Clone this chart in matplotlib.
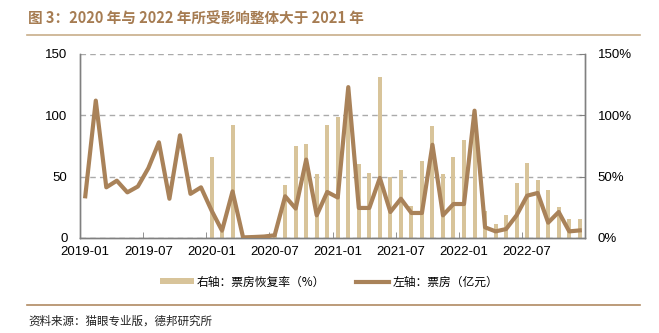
import matplotlib
matplotlib.use("Agg")
import matplotlib.pyplot as plt
from matplotlib.patches import Patch
from matplotlib.lines import Line2D
import numpy as np

plt.rcParams['font.family'] = ['Liberation Sans', 'Noto Sans CJK SC', 'DejaVu Sans']

# ---- data ----
months = [f"{y}-{m:02d}" for y in (2019, 2020, 2021, 2022) for m in range(1, 13)]
box_office = [34, 112, 41.3, 46.7, 37.2, 42, 57, 78, 32, 83.7, 36, 41.3,      # 2019
              22.5, 6, 38, 0.5, 0.8, 1.2, 2.2, 34, 24, 63.9, 18.5, 37.5,      # 2020
              33, 123, 24.5, 24.5, 49, 21.2, 32, 20.4, 20.4, 76, 18.5, 27.7,  # 2021
              27.7, 103.8, 8.7, 5.4, 7.3, 18.5, 34.5, 36.7, 12.5, 21.2, 5.4, 6.2]  # 2022
recovery = [np.nan] * 12 + \
           [66, 5, 92, 0, 0, 0, 3.5, 43.5, 75, 76.6, 52, 92.4] + \
           [98.4, 110, 60.3, 52.7, 131, 50, 55.7, 25.8, 62.5, 91, 52.2, 66.3] + \
           [80.2, 93, 21.7, 11.7, 19, 45, 60.9, 47, 39, 25, 15.5, 15.8]
tick_labels = ['2019-01', '2019-07', '2020-01', '2020-07',
               '2021-01', '2021-07', '2022-01', '2022-07']
left_ticks = [0, 50, 100, 150]
right_ticks = [0, 50, 100, 150]

title = "图 3：2020 年与 2022 年所受影响整体大于 2021 年"
source = "资料来源：猫眼专业版，德邦研究所"
bar_label = "右轴：票房恢复率（%）"
line_label = "左轴：票房（亿元）"

bar_color = "#D8C49A"
line_color = "#A98259"
title_color = "#A67C52"
spine_color = "#808080"

# ---- figure ----
fig = plt.figure(figsize=(6.59, 3.33), dpi=100)
ax = fig.add_axes([80/659, 1-238/333, 505/659, 184/333])
ax2 = ax.twinx()

x = np.arange(len(months))

# bars (right axis)
ax2.bar(x, recovery, width=0.38, color=bar_color, zorder=2)
ax2.set_ylim(0, 150)
ax2.set_yticks(right_ticks)
ax2.set_yticklabels([f"{v}%" for v in right_ticks])
ax2.yaxis.grid(True, linestyle=(0, (4, 3)), color="#AAAAAA", linewidth=1.0, zorder=0)
ax2.set_axisbelow(True)

# line (left axis)
ax.plot(x, box_office, color=line_color, linewidth=3.0, solid_joinstyle='round', zorder=3)
ax.set_ylim(0, 150)
ax.set_yticks(left_ticks)
ax.set_xlim(-0.5, len(months) - 0.5)

ax.set_zorder(ax2.get_zorder() + 1)
ax.patch.set_visible(False)

# x ticks: labels at categories, tick marks at boundaries
label_pos = [months.index(t) for t in tick_labels]
ax.set_xticks(label_pos)
ax.set_xticklabels(tick_labels)
ax.set_xticks([p - 0.5 for p in label_pos[1:]], minor=True)
ax.tick_params(axis='x', which='major', length=0, pad=6, labelsize=9.5)
ax.tick_params(axis='x', which='minor', length=4, direction='in', color=spine_color)
ax.tick_params(axis='y', length=0, pad=9, labelsize=9.5)
ax2.tick_params(axis='y', length=4, direction='in', pad=9, labelsize=9.5, color=spine_color)

for a in (ax, ax2):
    a.spines['top'].set_visible(False)
    for s in ('left', 'right', 'bottom'):
        a.spines[s].set_color(spine_color)
        a.spines[s].set_linewidth(1.0)

# title and decoration
fig.text(28/659, 1-19/333, title, fontsize=10.5, fontweight='bold', color=title_color,
         va='center', ha='left', family=['Noto Sans CJK SC', 'DejaVu Sans'])
fig.add_artist(Line2D([27/659, 640/659], [1-35/333, 1-35/333], color="#C8AE8A", linewidth=1.2))
fig.add_artist(Line2D([27/659, 640/659], [1-305/333, 1-305/333], color="#B08A62", linewidth=1.2))
fig.text(28/659, 1-321/333, source, fontsize=8.3, color="#222222",
         va='center', ha='left', family=['Noto Sans CJK SC', 'DejaVu Sans'])

# legend
handles = [Patch(facecolor=bar_color, edgecolor='none'),
           Line2D([0], [0], color=line_color, linewidth=3.0)]
leg = fig.legend(handles, [bar_label, line_label], loc='center',
                 bbox_to_anchor=(0.5, 1-282/333), ncol=2, frameon=False,
                 handlelength=2.8, handleheight=0.45, handletextpad=0.3,
                 columnspacing=2.6, prop={'family': ['Noto Sans CJK SC', 'DejaVu Sans'], 'size': 8.5})

fig.savefig("out.png", dpi=100)
